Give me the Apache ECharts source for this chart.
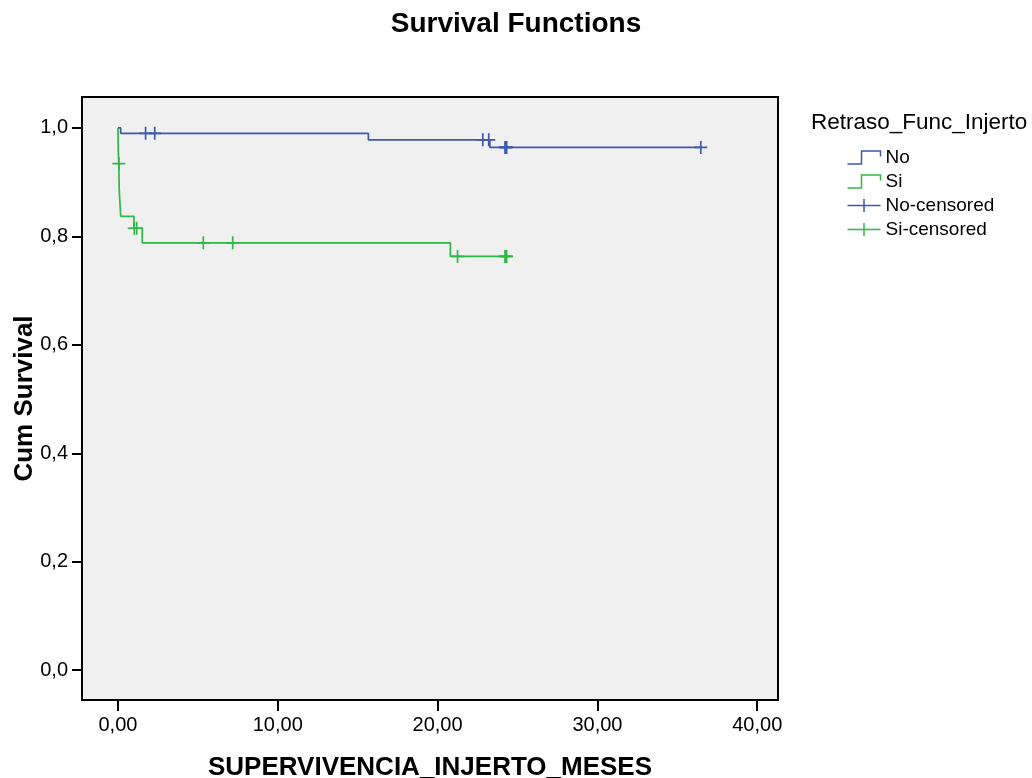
<!DOCTYPE html>
<html>
<head>
<meta charset="utf-8">
<script src="https://cdn.jsdelivr.net/npm/echarts@6/dist/echarts.min.js"></script>
<style>
html,body{margin:0;padding:0;background:#fff;}
#chart{width:1032px;height:778px;}
</style>
</head>
<body>
<div id="chart"></div>
<script>
// Kaplan-Meier step curves: [time, cumulative survival] at each event (plus last follow-up)
const noCurve = [[0, 1.0], [0.17, 0.990], [15.67, 0.978], [23.27, 0.964], [36.47, 0.964]];
const siCurve = [[0, 1.0], [0.02, 0.956], [0.05, 0.934], [0.08, 0.886], [0.17, 0.837], [1.0, 0.815], [1.52, 0.788], [20.8, 0.763], [24.3, 0.763]];
// censored observations
const noCensored = [[1.73, 0.990], [2.30, 0.990], [22.83, 0.978], [23.2, 0.978], [24.22, 0.964], [24.27, 0.964], [24.32, 0.964], [36.47, 0.964]];
const siCensored = [[0.06, 0.934], [1.02, 0.815], [1.17, 0.815], [5.34, 0.788], [7.18, 0.788], [21.25, 0.763], [24.22, 0.763], [24.27, 0.763], [24.32, 0.763]];
const xTicks = [0, 10, 20, 30, 40];
const yTicks = [0, 0.2, 0.4, 0.6, 0.8, 1.0];
const groupNames = ['No', 'Si', 'No-censored', 'Si-censored'];

const BLUE = '#3e58ac';
const GREEN = '#2eb848';
const FONT = "'Liberation Sans', Arial, sans-serif";
const crossPath = 'path://M0,5 L10,5 M5,0 L5,10';
const stepIcon = 'path://M0,12 L14,12 L14,0 L33,0 L33,5';
const crossIcon = 'path://M0,6.5 L33,6.5 M16.5,0 L16.5,13';

const chart = echarts.init(document.getElementById('chart'), null, {renderer: 'canvas'});
chart.setOption({
  animation: false,
  backgroundColor: '#ffffff',
  textStyle: {fontFamily: FONT},
  title: [
    {text: 'Survival Functions', left: 'center', top: 10, padding: 0,
     textStyle: {fontSize: 28, fontWeight: 'bold', color: '#000', fontFamily: FONT}},
    {text: 'Retraso_Func_Injerto', left: 811, top: 111, padding: 0,
     textStyle: {fontSize: 22.5, fontWeight: 'normal', color: '#000', fontFamily: FONT}}
  ],
  legend: {
    orient: 'vertical', left: 845, top: 148, padding: 0,
    itemWidth: 33, itemHeight: 13, itemGap: 5, symbolKeepAspect: false,
    textStyle: {fontSize: 19, color: '#000', fontFamily: FONT},
    data: [
      {name: groupNames[0], icon: stepIcon, itemStyle: {color: 'none', borderColor: BLUE, borderWidth: 1.5}},
      {name: groupNames[1], icon: stepIcon, itemStyle: {color: 'none', borderColor: GREEN, borderWidth: 1.5}},
      {name: groupNames[2], icon: crossIcon, itemStyle: {color: 'none', borderColor: BLUE, borderWidth: 1.5}},
      {name: groupNames[3], icon: crossIcon, itemStyle: {color: 'none', borderColor: GREEN, borderWidth: 1.5}}
    ]
  },
  grid: {left: 82, right: 254, top: 97, bottom: 78, show: true, outerBoundsMode: 'none', containLabel: false,
         backgroundColor: '#f0f0f0', borderColor: '#000', borderWidth: 2},
  xAxis: {
    type: 'value', min: -2.25, max: 41.3,
    axisLine: {show: false, onZero: false},
    splitLine: {show: false},
    axisTick: {show: true, length: 11, customValues: xTicks, lineStyle: {color: '#000', width: 2}},
    axisLabel: {customValues: xTicks, margin: 15, fontSize: 20, color: '#000', fontFamily: FONT,
                formatter: v => v.toFixed(2).replace('.', ',')},
    name: 'SUPERVIVENCIA_INJERTO_MESES', nameLocation: 'middle', nameGap: 55,
    nameTextStyle: {fontSize: 26, fontWeight: 'bold', color: '#000', fontFamily: FONT}
  },
  yAxis: {
    type: 'value', min: -0.055, max: 1.057,
    axisLine: {show: false, onZero: false},
    splitLine: {show: false},
    axisTick: {show: true, length: 10, customValues: yTicks, lineStyle: {color: '#000', width: 2}},
    axisLabel: {customValues: yTicks, margin: 14, fontSize: 20, color: '#000', fontFamily: FONT,
                formatter: v => v.toFixed(1).replace('.', ',')},
    name: 'Cum Survival', nameLocation: 'middle', nameGap: 44, nameRotate: 90, nameMoveOverlap: false,
    nameTextStyle: {fontSize: 26, fontWeight: 'bold', color: '#000', fontFamily: FONT}
  },
  series: [
    {name: groupNames[0], type: 'line', step: 'end', data: noCurve, symbol: 'none',
     lineStyle: {color: BLUE, width: 1.7}, itemStyle: {color: BLUE}, z: 3},
    {name: groupNames[1], type: 'line', step: 'end', data: siCurve, symbol: 'none',
     lineStyle: {color: GREEN, width: 1.7}, itemStyle: {color: GREEN}, z: 3},
    {name: groupNames[2], type: 'scatter', data: noCensored, symbol: crossPath, symbolSize: 13,
     itemStyle: {color: 'none', borderColor: BLUE, borderWidth: 1.7, opacity: 1}, z: 4},
    {name: groupNames[3], type: 'scatter', data: siCensored, symbol: crossPath, symbolSize: 13,
     itemStyle: {color: 'none', borderColor: GREEN, borderWidth: 1.7, opacity: 1}, z: 4}
  ]
});
</script>
</body>
</html>
